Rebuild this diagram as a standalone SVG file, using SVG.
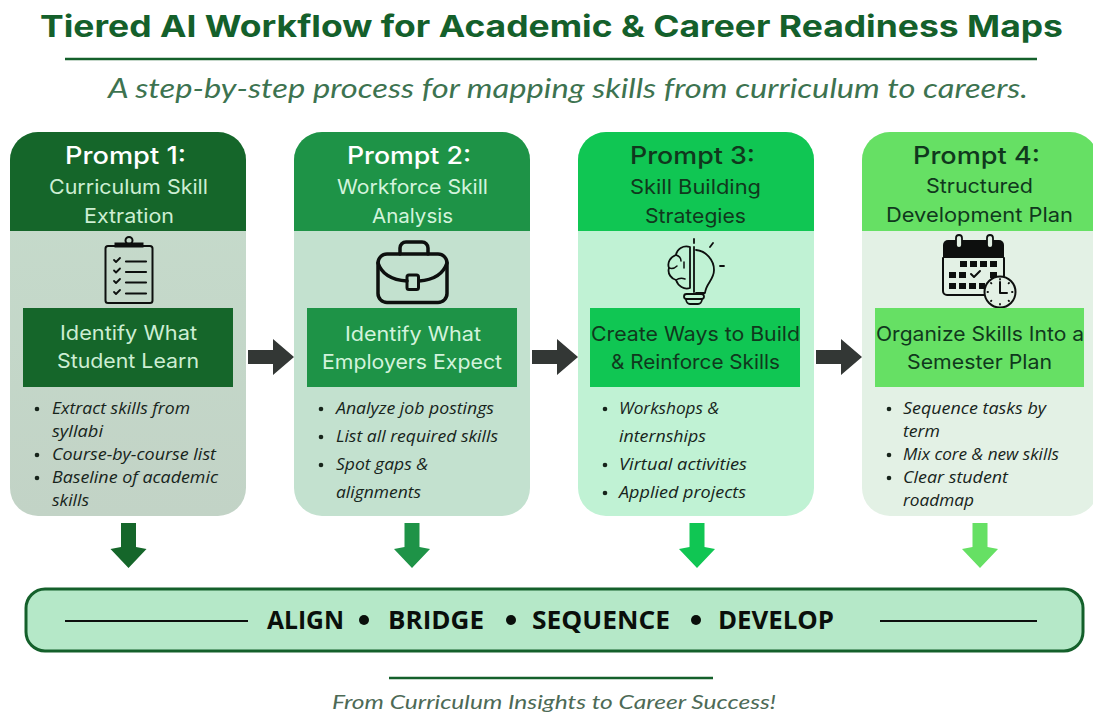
<svg xmlns="http://www.w3.org/2000/svg" width="1093" height="717" viewBox="0 0 1093 717">
<style>
text{font-family:"Inter","Open Sans","Liberation Sans",sans-serif}
.title{font-size:30px;font-weight:700;fill:#14602b}
.sub{font-size:27px;font-style:italic;fill:#3d7350;font-family:"Lato","Open Sans",sans-serif}
.foot{font-size:19px;font-style:italic;fill:#4d6a56;font-family:"Lato","Open Sans",sans-serif}
.pr{font-size:24px;font-weight:500}
.hd{font-size:20px;font-weight:400}
.bx{font-size:20px;font-weight:400}
.li{font-size:15.5px;font-style:italic;fill:#17241b;font-family:"Open Sans","Noto Sans",sans-serif}
.bn{font-size:25px;font-weight:700;fill:#0a0f0b;font-family:"Open Sans","Liberation Sans",sans-serif}
.w{fill:#fff}.l1{fill:#cdeed3}.l2{fill:#d3f3dc}.d{fill:#10381d}
.ic{fill:none;stroke:#0d0f0e;stroke-linecap:round;stroke-linejoin:round}
.ink{fill:#0d0f0e}
.bul{fill:#17241b}
</style>
<defs>
<path id="ah" d="M-23-7H2V-18L23 0 2 18V7H-23Z" fill="#333735"/>
<path id="av" d="M-7.500-41H7.500V-17L18-15 0 4-18-15-7.500-17Z"/>
<linearGradient id="body1" x1="0" y1="0" x2="0" y2="1"><stop offset="0" stop-color="#c6dccc"/><stop offset="1" stop-color="#c2d3c6"/></linearGradient>
</defs>

<g id="header">
<text class="title" x="40" y="37" textLength="1023" lengthAdjust="spacingAndGlyphs">Tiered AI Workflow for Academic &amp; Career Readiness Maps</text>
<line x1="65" y1="59" x2="1037" y2="59" stroke="#14602b" stroke-width="2.500"/>
<text class="sub" x="108" y="98" textLength="920" lengthAdjust="spacingAndGlyphs">A step-by-step process for mapping skills from curriculum to careers.</text>
</g>

<g id="card-1">
<rect x="10" y="132" width="236" height="384" rx="28" fill="url(#body1)"/>
<path d="M10 231V160a28 28 0 0 1 28-28H218a28 28 0 0 1 28 28V231Z" fill="#15662a"/>
<text class="pr w" x="65" y="164" textLength="121" lengthAdjust="spacingAndGlyphs">Prompt 1:</text>
<text class="hd l1" x="49" y="194" textLength="159" lengthAdjust="spacingAndGlyphs">Curriculum Skill</text>
<text class="hd l1" x="84" y="223" textLength="90" lengthAdjust="spacingAndGlyphs">Extration</text>
<g id="icon-clipboard">
<rect x="105.500" y="246" width="47" height="57" rx="2.500" class="ic" stroke-width="2"/>
<path d="M116 246V244H142V246Z" class="ink" stroke="#0d0f0e" stroke-width="3"/>
<circle cx="129" cy="240.500" r="3.500" class="ic" stroke-width="2"/>
<path d="M126 261.500H146M126 272H146M126 282.500H146M126 293.500H146" class="ic" stroke-width="2.200"/>
<path d="M114 260l2 2 4-4M114 270.500l2 2 4-4M114 281l2 2 4-4M114 292l2 2 4-4" class="ic" stroke-width="1.800"/>
</g>
<rect x="23" y="308" width="210" height="79" fill="#15662a"/>
<text class="bx l1" x="60" y="340" textLength="137" lengthAdjust="spacingAndGlyphs">Identify What</text>
<text class="bx l1" x="57" y="368" textLength="142" lengthAdjust="spacingAndGlyphs">Student Learn</text>
<circle class="bul" cx="37" cy="409" r="2.300"/><circle class="bul" cx="37" cy="455" r="2.300"/><circle class="bul" cx="37" cy="478" r="2.300"/>
<text class="li" x="52" y="414" textLength="138" lengthAdjust="spacingAndGlyphs">Extract skills from</text>
<text class="li" x="52" y="437" textLength="51" lengthAdjust="spacingAndGlyphs">syllabi</text>
<text class="li" x="52" y="460" textLength="164" lengthAdjust="spacingAndGlyphs">Course-by-course list</text>
<text class="li" x="52" y="483" textLength="166" lengthAdjust="spacingAndGlyphs">Baseline of academic</text>
<text class="li" x="52" y="506" textLength="37" lengthAdjust="spacingAndGlyphs">skills</text>
</g>

<g id="card-2">
<rect x="294" y="132" width="236" height="384" rx="28" fill="#c3e1cf"/>
<path d="M294 231V160a28 28 0 0 1 28-28H502a28 28 0 0 1 28 28V231Z" fill="#1e9347"/>
<text class="pr w" x="347" y="164" textLength="124" lengthAdjust="spacingAndGlyphs">Prompt 2:</text>
<text class="hd l2" x="337" y="194" textLength="151" lengthAdjust="spacingAndGlyphs">Workforce Skill</text>
<text class="hd l2" x="372" y="223" textLength="81" lengthAdjust="spacingAndGlyphs">Analysis</text>
<g id="icon-briefcase">
<path d="M400 254V248a6 6 0 0 1 6-6H422a6 6 0 0 1 6 6V254" class="ic" stroke-width="3.500"/>
<rect x="378" y="254" width="69" height="48.500" rx="9" class="ic" stroke-width="3.500"/>
<path d="M378 263c4 12 14 17 29 18M447 263c-4 12-14 17-28 18" class="ic" stroke-width="3.500"/>
<rect x="407" y="275" width="11.500" height="14.500" rx="2" class="ic" stroke-width="3"/>
</g>
<rect x="307" y="308" width="210" height="79" fill="#1e9347"/>
<text class="bx l2" x="345" y="341" textLength="136" lengthAdjust="spacingAndGlyphs">Identify What</text>
<text class="bx l2" x="322" y="369" textLength="180" lengthAdjust="spacingAndGlyphs">Employers Expect</text>
<circle class="bul" cx="321" cy="409" r="2.300"/><circle class="bul" cx="321" cy="437" r="2.300"/><circle class="bul" cx="321" cy="465" r="2.300"/>
<text class="li" x="336" y="414" textLength="158" lengthAdjust="spacingAndGlyphs">Analyze job postings</text>
<text class="li" x="336" y="442" textLength="162" lengthAdjust="spacingAndGlyphs">List all required skills</text>
<text class="li" x="336" y="470" textLength="92" lengthAdjust="spacingAndGlyphs">Spot gaps &amp;</text>
<text class="li" x="336" y="498" textLength="85" lengthAdjust="spacingAndGlyphs">alignments</text>
</g>

<g id="card-3">
<rect x="578" y="132" width="236" height="384" rx="28" fill="#c0f2d4"/>
<path d="M578 231V160a28 28 0 0 1 28-28H786a28 28 0 0 1 28 28V231Z" fill="#10c653"/>
<text class="pr d" x="630" y="164" textLength="125" lengthAdjust="spacingAndGlyphs">Prompt 3:</text>
<text class="hd d" x="630" y="194" textLength="131" lengthAdjust="spacingAndGlyphs">Skill Building</text>
<text class="hd d" x="645" y="223" textLength="101" lengthAdjust="spacingAndGlyphs">Strategies</text>
<g id="icon-bulb">
<path d="M694 239V243M694 247V292M696 250c10 1 18 10 18 20 0 10-8 13-9 23H696M713 243l-3 4M720 266H724" class="ic" stroke-width="1.800"/>
<path d="M690 247c-7-2-13 2-14 8-6 2-9 8-7 13-2 6 3 11 7 12 2 6 8 10 14 8V247Z" class="ic" stroke-width="1.800"/>
<path d="M676 255c3 1 5 3 5 6M669 268c3 1 6 0 8-2M676 280c3-2 6-2 9-1M684 262v6" class="ic" stroke-width="1.500"/>
<rect x="684" y="294" width="20" height="5" rx="2.500" class="ic" stroke-width="1.800"/>
<path d="M686 299c0 3 2 5 4 5H698c2 0 4-2 4-5" class="ic" stroke-width="1.800"/>
</g>
<rect x="590" y="308" width="210" height="79" fill="#10c653"/>
<text class="bx d" x="591" y="341" textLength="209" lengthAdjust="spacingAndGlyphs">Create Ways to Build</text>
<text class="bx d" x="611" y="369" textLength="169" lengthAdjust="spacingAndGlyphs">&amp; Reinforce Skills</text>
<circle class="bul" cx="605" cy="409" r="2.300"/><circle class="bul" cx="605" cy="465" r="2.300"/><circle class="bul" cx="605" cy="493" r="2.300"/>
<text class="li" x="619" y="414" textLength="100" lengthAdjust="spacingAndGlyphs">Workshops &amp;</text>
<text class="li" x="619" y="442" textLength="87" lengthAdjust="spacingAndGlyphs">internships</text>
<text class="li" x="619" y="470" textLength="128" lengthAdjust="spacingAndGlyphs">Virtual activities</text>
<text class="li" x="619" y="498" textLength="127" lengthAdjust="spacingAndGlyphs">Applied projects</text>
</g>

<g id="card-4">
<rect x="862" y="132" width="236" height="384" rx="28" fill="#e3f1e5"/>
<path d="M862 231V160a28 28 0 0 1 28-28H1070a28 28 0 0 1 28 28V231Z" fill="#66e064"/>
<text class="pr d" x="913" y="164" textLength="127" lengthAdjust="spacingAndGlyphs">Prompt 4:</text>
<text class="hd d" x="926" y="193" textLength="107" lengthAdjust="spacingAndGlyphs">Structured</text>
<text class="hd d" x="886" y="222" textLength="187" lengthAdjust="spacingAndGlyphs">Development Plan</text>
<g id="icon-calendar">
<path d="M943 258V245a5 5 0 0 1 5-5H999a5 5 0 0 1 5 5V258Z" class="ink"/>
<path d="M943 258V291a4 4 0 0 0 4 4H984M1004 258V276" class="ic" stroke-width="2"/>
<rect x="956" y="235" width="6" height="13" rx="3" fill="#e3f1e5" stroke="#0d0f0e" stroke-width="1.800"/>
<rect x="987" y="235" width="6" height="13" rx="3" fill="#e3f1e5" stroke="#0d0f0e" stroke-width="1.800"/>
<path class="ink" d="M960 261h7v6h-7zM970 261h7v6h-7zM980 261h7v6h-7zM990 261h7v6h-7zM949 272h7v6h-7zM959 272h7v6h-7zM990 272h7v6h-7zM949 283h7v6h-7zM959 283h7v6h-7zM969 283h7v6h-7zM979 283h6v6h-6z"/>
<path d="M971 274l3 3 6-6" class="ic" stroke-width="2"/>
<circle cx="1000" cy="292" r="15.500" fill="#e3f1e5" stroke="#0d0f0e" stroke-width="2"/>
<path d="M1000 282V293H1007" class="ic" stroke-width="2"/>
<path d="M1000 279v.5M1000 304v.5M987.500 292h.5M1012 292h.5M991 283l.4.4M1009 283l-.4.4M991 301l.4-.4M1009 301l-.4-.4" class="ic" stroke-width="1.800"/>
</g>
<rect x="875" y="308" width="209" height="79" fill="#66e064"/>
<text class="bx d" x="876" y="341" textLength="208" lengthAdjust="spacingAndGlyphs">Organize Skills Into a</text>
<text class="bx d" x="907" y="369" textLength="145" lengthAdjust="spacingAndGlyphs">Semester Plan</text>
<circle class="bul" cx="889" cy="409" r="2.300"/><circle class="bul" cx="889" cy="455" r="2.300"/><circle class="bul" cx="889" cy="478" r="2.300"/>
<text class="li" x="903" y="414" textLength="143" lengthAdjust="spacingAndGlyphs">Sequence tasks by</text>
<text class="li" x="903" y="437" textLength="37" lengthAdjust="spacingAndGlyphs">term</text>
<text class="li" x="903" y="460" textLength="156" lengthAdjust="spacingAndGlyphs">Mix core &amp; new skills</text>
<text class="li" x="903" y="483" textLength="105" lengthAdjust="spacingAndGlyphs">Clear student</text>
<text class="li" x="903" y="506" textLength="71" lengthAdjust="spacingAndGlyphs">roadmap</text>
</g>

<g id="connectors">
<use href="#ah" x="271" y="357"/>
<use href="#ah" x="555" y="357"/>
<use href="#ah" x="839" y="357"/>
<use href="#av" x="128.500" y="564" fill="#15662a"/>
<use href="#av" x="412" y="564" fill="#1e9347"/>
<use href="#av" x="697" y="564" fill="#10c653"/>
<use href="#av" x="980" y="564" fill="#66e064"/>
</g>

<g id="banner">
<rect x="26" y="589" width="1057" height="62" rx="19" fill="#b5e8c8" stroke="#14602b" stroke-width="3"/>
<line x1="65" y1="621" x2="248" y2="621" stroke="#0d0f0e" stroke-width="2.200"/>
<line x1="880" y1="621" x2="1037" y2="621" stroke="#0d0f0e" stroke-width="2.200"/>
<text class="bn" x="267" y="629" textLength="77" lengthAdjust="spacingAndGlyphs">ALIGN</text>
<circle cx="364" cy="620" r="5" fill="#0a0f0b"/>
<text class="bn" x="388" y="629" textLength="96" lengthAdjust="spacingAndGlyphs">BRIDGE</text>
<circle cx="511" cy="620" r="5" fill="#0a0f0b"/>
<text class="bn" x="532" y="629" textLength="138" lengthAdjust="spacingAndGlyphs">SEQUENCE</text>
<circle cx="696" cy="620" r="5" fill="#0a0f0b"/>
<text class="bn" x="718" y="629" textLength="116" lengthAdjust="spacingAndGlyphs">DEVELOP</text>
</g>

<g id="footer">
<line x1="389" y1="678" x2="713" y2="678" stroke="#14602b" stroke-width="2.500"/>
<text class="foot" x="332" y="709" textLength="444" lengthAdjust="spacingAndGlyphs">From Curriculum Insights to Career Success!</text>
</g>
</svg>
